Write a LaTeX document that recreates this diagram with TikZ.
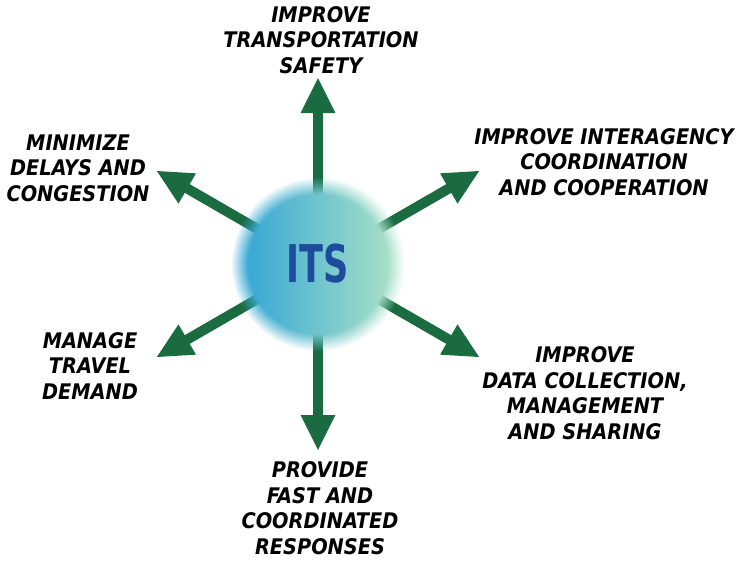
\documentclass[tikz,border=0pt]{standalone}
\usepackage{fontspec}
\setmainfont{DejaVu Sans Condensed}
\usetikzlibrary{arrows.meta,fadings,backgrounds}
\definecolor{goalgreen}{HTML}{1A6B40}
\definecolor{ballleft}{HTML}{2BA2D6}
\definecolor{ballmid}{HTML}{5CBCD2}
\definecolor{ballright}{HTML}{B4E6C6}
\definecolor{itsblue}{HTML}{1D4C9C}
\tikzset{
	goal/.style = {
		align=center, inner sep=0pt,
		font=\fontsize{21.5}{25.5}\selectfont\bfseries\itshape
	},
	goal arrow/.style = {
		-{Triangle[width=32pt, length=36pt]}, line width=10pt, color=goalgreen
	},
	its ball/.style = {
		circle, minimum size=174pt, inner sep=0pt,
		left color=ballleft, middle color=ballmid, right color=ballright,
		path fading=circle with fuzzy edge 20 percent,
		text=itsblue, font=\fontsize{52}{52}\selectfont\bfseries
	}
}
\begin{document}
\begin{tikzpicture}[x=1pt, y=1pt]
	\useasboundingbox (-318,-296) rectangle (420,264);
	\node[its ball] (its) at (0,0) {\scalebox{0.75}[1]{ITS}};
	% goals round the ball
	\node[goal] (safety) at (3,224) {IMPROVE\\TRANSPORTATION\\SAFETY};
	\node[goal] (agency) at (286,102) {IMPROVE INTERAGENCY\\COORDINATION\\AND COOPERATION};
	\node[goal] (delays) at (-240,96) {MINIMIZE\\DELAYS AND\\CONGESTION};
	\node[goal] (demand) at (-228,-102) {MANAGE\\TRAVEL\\DEMAND};
	\node[goal] (data) at (267,-129) {IMPROVE\\DATA COLLECTION,\\MANAGEMENT\\AND SHARING};
	\node[goal] (respond) at (2,-244) {PROVIDE\\FAST AND\\COORDINATED\\RESPONSES};
	\begin{scope}[on background layer]
		\foreach \ang/\tip in {90/up, 30/upright, 150/upleft, 210/downleft, 330/downright, 270/down}
		{
			\coordinate (tip \tip) at (\ang:187);
			\draw[goal arrow] (its.center) -- (tip \tip);
		}
	\end{scope}
\end{tikzpicture}
\end{document}
